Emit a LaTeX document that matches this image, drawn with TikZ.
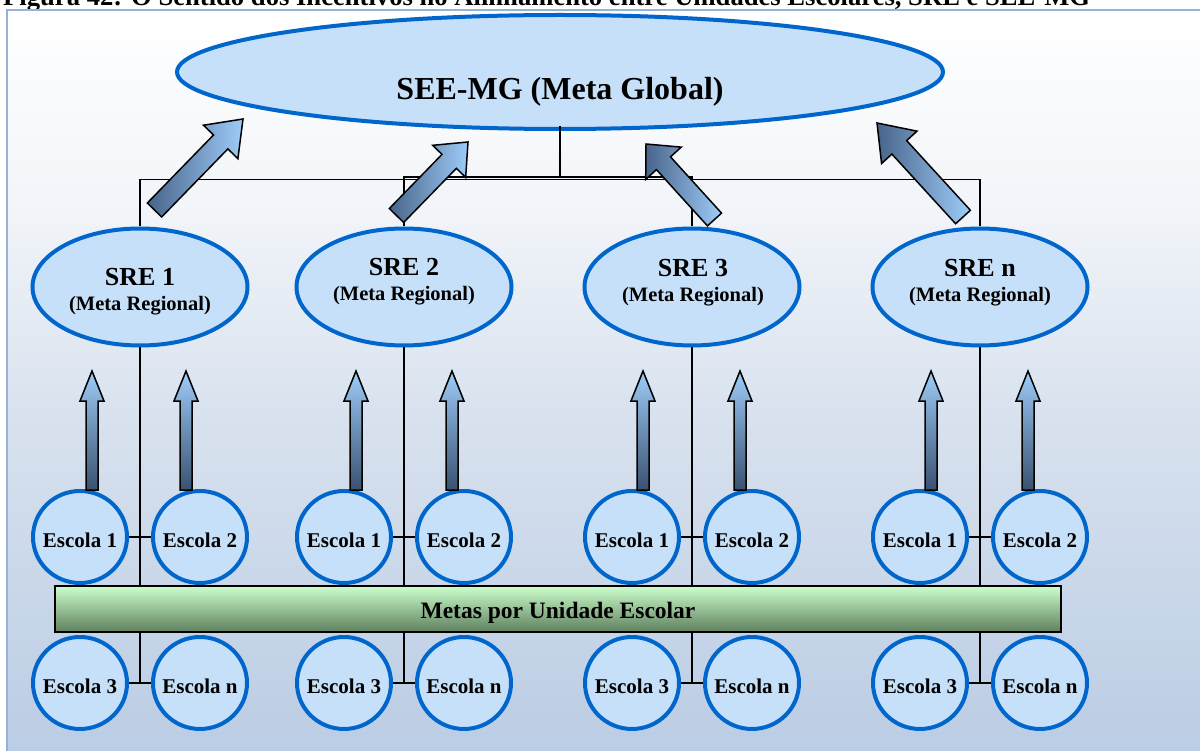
\documentclass[tikz,border=0pt]{standalone}
\usepackage{fontspec}
\setmainfont{Liberation Serif}
\usepackage{graphicx}
\usetikzlibrary{shapes.geometric,calc}

\definecolor{nodeblue}{RGB}{0,102,204}
\definecolor{nodefill}{RGB}{198,224,249}
\definecolor{framecol}{RGB}{149,179,215}
\definecolor{bgA}{RGB}{186,204,228}
\definecolor{bgB}{RGB}{218,227,239}
\definecolor{bgC}{RGB}{242,245,249}
\definecolor{arrowlight}{RGB}{158,204,248}
\definecolor{arrowdark}{RGB}{58,82,112}
\definecolor{arrowmid}{RGB}{72,100,138}
\definecolor{barlight}{RGB}{204,255,204}
\definecolor{barmid}{RGB}{165,205,165}
\definecolor{bardark}{RGB}{95,127,95}

% background of the panel: white at the top, steel blue at the bottom
\pgfdeclareverticalshading{panelshade}{100bp}{color(0bp)=(bgA); color(25bp)=(bgA); color(49bp)=(bgB); color(62bp)=(bgC); color(75bp)=(white); color(100bp)=(white)}

\tikzset{
  bluenode/.style={draw=nodeblue, line width=4pt, fill=nodefill, ellipse, inner sep=0pt},
  seenode/.style={bluenode, minimum width=766pt, minimum height=114pt},
  srenode/.style={bluenode, minimum width=215pt, minimum height=117pt},
  escnode/.style={bluenode, minimum width=94pt, minimum height=92pt},
  barnode/.style={draw=black, line width=2pt, rectangle, inner sep=0pt,
    minimum width=1006pt, minimum height=46pt,
    top color=barlight, middle color=barmid, bottom color=bardark},
  txt/.style={inner sep=0pt, anchor=base},
  link/.style={draw=black, line width=2pt},
  busline/.style={draw=black, line width=1.5pt},
  uparrow/.style={draw=black, line width=1.5pt, top color=arrowlight, bottom color=arrowdark},
  diagarrow/.style={draw=black, line width=1.5pt, left color=arrowmid, right color=arrowlight},
}

% block arrow: #1 style, #2 tail, #3 tip, #4 half shaft width, #5 half head width, #6 head length
\newcommand\blockarrow[6]{%
  \coordinate (ba-b) at ($(#3)!#6!(#2)$);
  \path[#1] ($(#2)!#4!90:(#3)$) -- ($(ba-b)!#4!90:(#3)$) -- ($(ba-b)!#5!90:(#3)$)
    -- (#3) -- ($(ba-b)!#5!-90:(#3)$) -- ($(ba-b)!#4!-90:(#3)$) -- ($(#2)!#4!-90:(#3)$) -- cycle;
}

\newcommand\titlefont{\bfseries\fontsize{26}{30}\selectfont}
\newcommand\seefont{\bfseries\fontsize{32}{36}\selectfont}
\newcommand\srebig{\bfseries\fontsize{26}{30}\selectfont}
\newcommand\sresmall{\bfseries\fontsize{20.5}{24}\selectfont}
\newcommand\escfont{\bfseries\fontsize{21}{24}\selectfont}
\newcommand\barfont{\bfseries\fontsize{23.5}{27}\selectfont}

\begin{document}
\begin{tikzpicture}[x=1pt,y=-1pt]
\useasboundingbox (0,0) rectangle (1200,751);
\clip (0,0) rectangle (1200,751);

% caption line above the panel
\node[anchor=base west, inner sep=0pt] (title) at (3,6)
  {\resizebox{1087pt}{!}{\titlefont Figura 42: O Sentido dos Incentivos no Alinhamento entre Unidades Escolares, SRE e SEE-MG}};

% panel
\path[shade, shading=panelshade, draw=framecol, line width=2pt] (7,10) rectangle (1215,760);

% state level
\node[seenode] (see) at (560,72) {};

% regional level and schools
\foreach \g/\cx/\lab/\ya in {1/140/1/286, 2/404/2/276, 3/692/3/277, 4/980/n/277} {
  \node[srenode] (sre\g) at (\cx,287) {};
  \node[escnode] (esc\g-1) at (\cx-60,537) {};
  \node[escnode] (esc\g-2) at (\cx+60,537) {};
  \node[escnode] (esc\g-3) at (\cx-60,683) {};
  \node[escnode] (esc\g-4) at (\cx+60,683) {};
}

% goals per school
\node[barnode] (bar) at (558,609) {};

% links from each SRE down through its schools
\foreach \g in {1,2,3,4} {
  \draw[link] (sre\g.south) -- (sre\g.south |- bar.north);
  \draw[link] (sre\g.south |- bar.south) -- (sre\g.south |- esc\g-3.east);
  \draw[link] (esc\g-1.east) -- (esc\g-2.west);
  \draw[link] (esc\g-3.east) -- (esc\g-4.west);
}

% bus between the SREs and the SEE
\coordinate (busO) at (560,179.5);
\coordinate (busI) at (560,177);
\draw[busline] (sre1.north) |- (busO) -| (sre4.north);
\draw[busline] (sre2.north) |- (busI) -| (sre3.north);
\draw[busline] ($(see.south)+(0,-5)$) -- (busI);

% arrows from the SREs towards the SEE
\coordinate (d1t) at (154.5,210); \coordinate (d1h) at (243,119);
\coordinate (d2t) at (396.5,215.5); \coordinate (d2h) at (468,142);
\coordinate (d3t) at (714.5,219.5); \coordinate (d3h) at (646,144);
\coordinate (d4t) at (963,217); \coordinate (d4h) at (877,123);
\blockarrow{diagarrow}{d1t}{d1h}{10pt}{24pt}{32pt}
\blockarrow{diagarrow}{d2t}{d2h}{10pt}{23pt}{27pt}
\blockarrow{diagarrow}{d3t}{d3h}{9.5pt}{24pt}{26pt}
\blockarrow{diagarrow}{d4t}{d4h}{10pt}{24pt}{33pt}

% arrows from the schools towards their SRE
\foreach \x in {92,186,356,452,643,740,931,1028} {
  \coordinate (vt\x) at (\x,490);
  \coordinate (vh\x) at (\x,371);
  \blockarrow{uparrow}{vt\x}{vh\x}{6pt}{12pt}{30pt}
}

% texts
\node[txt, font=\seefont] (seet) at (560,100) {SEE-MG (Meta Global)};
\foreach \g/\cx/\lab/\ya in {1/140/1/286, 2/404/2/276, 3/693/3/277, 4/980/n/277} {
  \node[txt, font=\srebig] (sre\g t) at (\cx,\ya) {SRE \lab};
  \node[txt, font=\sresmall] (sre\g s) at (\cx,\ya+25) {(Meta Regional)};
  \node[txt, font=\escfont] (esc\g-1t) at ($(esc\g-1)+(0,10.5)$) {Escola 1};
  \node[txt, font=\escfont] (esc\g-2t) at ($(esc\g-2)+(0,10.5)$) {Escola 2};
  \node[txt, font=\escfont] (esc\g-3t) at ($(esc\g-3)+(0,10.5)$) {Escola 3};
  \node[txt, font=\escfont] (esc\g-4t) at ($(esc\g-4)+(0,10.5)$) {Escola n};
}
\node[txt, font=\barfont] (bart) at (558,618) {Metas por Unidade Escolar};
\end{tikzpicture}
\end{document}
